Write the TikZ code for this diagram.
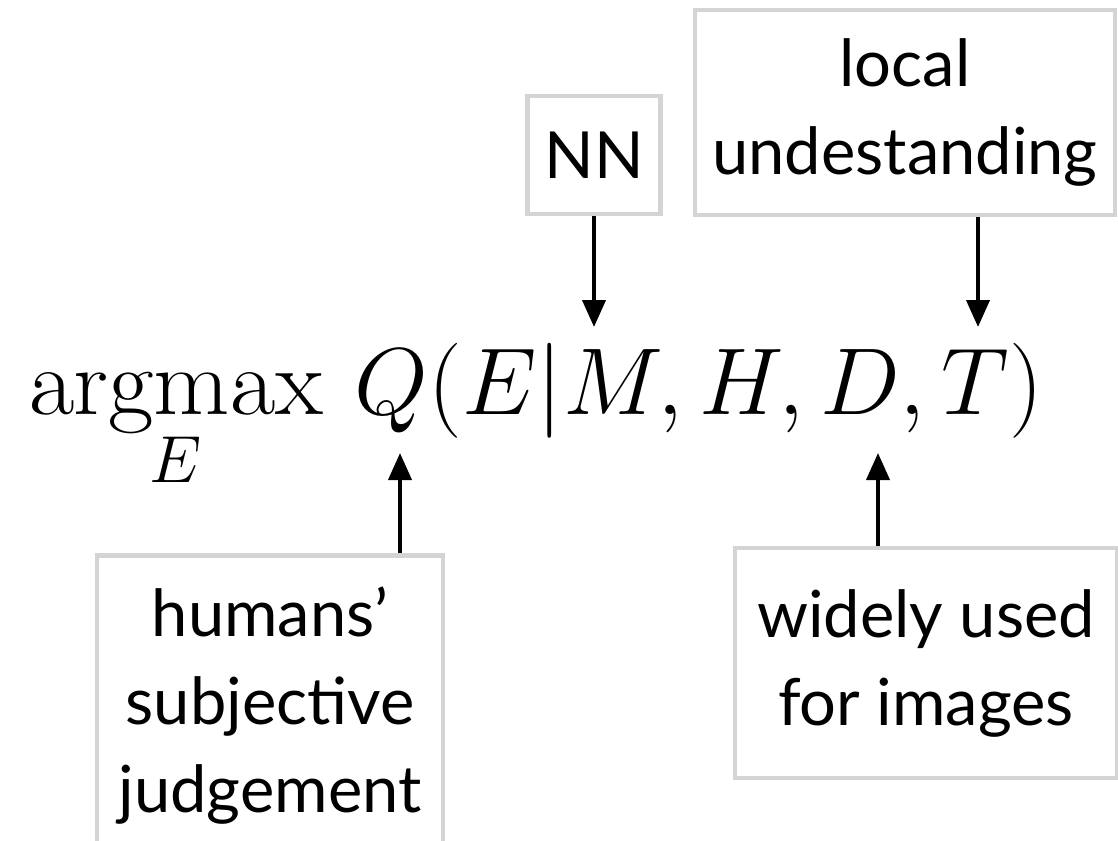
\RequirePackage{fix-cm}
\documentclass[tikz,border=0pt]{standalone}
\usepackage{amsmath}
\usepackage{graphicx}
\usepackage[no-math]{fontspec}
\setmainfont{Lato}
\usetikzlibrary{arrows.meta}
\newcommand{\myargmax}{\mathop{\scalebox{1.04}[1]{$\mathrm{argmax}$}}\limits}
\begin{document}
\begin{tikzpicture}[x=1pt,y=-1pt,
  lbl/.style={draw=boxgray, line width=4.5pt, fill=white, align=center, inner sep=0pt,
    font=\fontsize{65}{88}\selectfont},
  arr/.style={line width=4pt, -{Triangle[length=27pt,width=23pt]}}]
\definecolor{boxgray}{HTML}{D4D4D4}
\useasboundingbox (0,0) rectangle (1118,840);
\node[anchor=base west, inner sep=0pt, font=\fontsize{95}{114}\selectfont] (f) at (28,414)
  {$\displaystyle\myargmax_{\raisebox{-4pt}{$\scriptstyle E$}}\mkern3mu Q(E|M,H,D,T)$};
\node[lbl, minimum width=133pt, minimum height=118pt] (nn) at (594,155) {NN};
\node[lbl, minimum width=420pt, minimum height=205pt] (loc) at (905,112.5) {local\\undestanding};
\node[lbl, minimum width=346pt, minimum height=300pt, anchor=north] (hum) at (270,553) {humans’\\subjective\\judgement};
\node[lbl, minimum width=382pt, minimum height=230pt] (wid) at (926,663) {widely used\\for images};
\coordinate (tM) at (594,327);
\coordinate (tT) at (978,327);
\coordinate (tQ) at (400,453);
\coordinate (tD) at (878,453);
\draw[arr] (nn.south) -- (tM);
\draw[arr] (loc.south -| tT) -- (tT);
\draw[arr] (hum.north -| tQ) -- (tQ);
\draw[arr] (wid.north -| tD) -- (tD);
\end{tikzpicture}
\end{document}
